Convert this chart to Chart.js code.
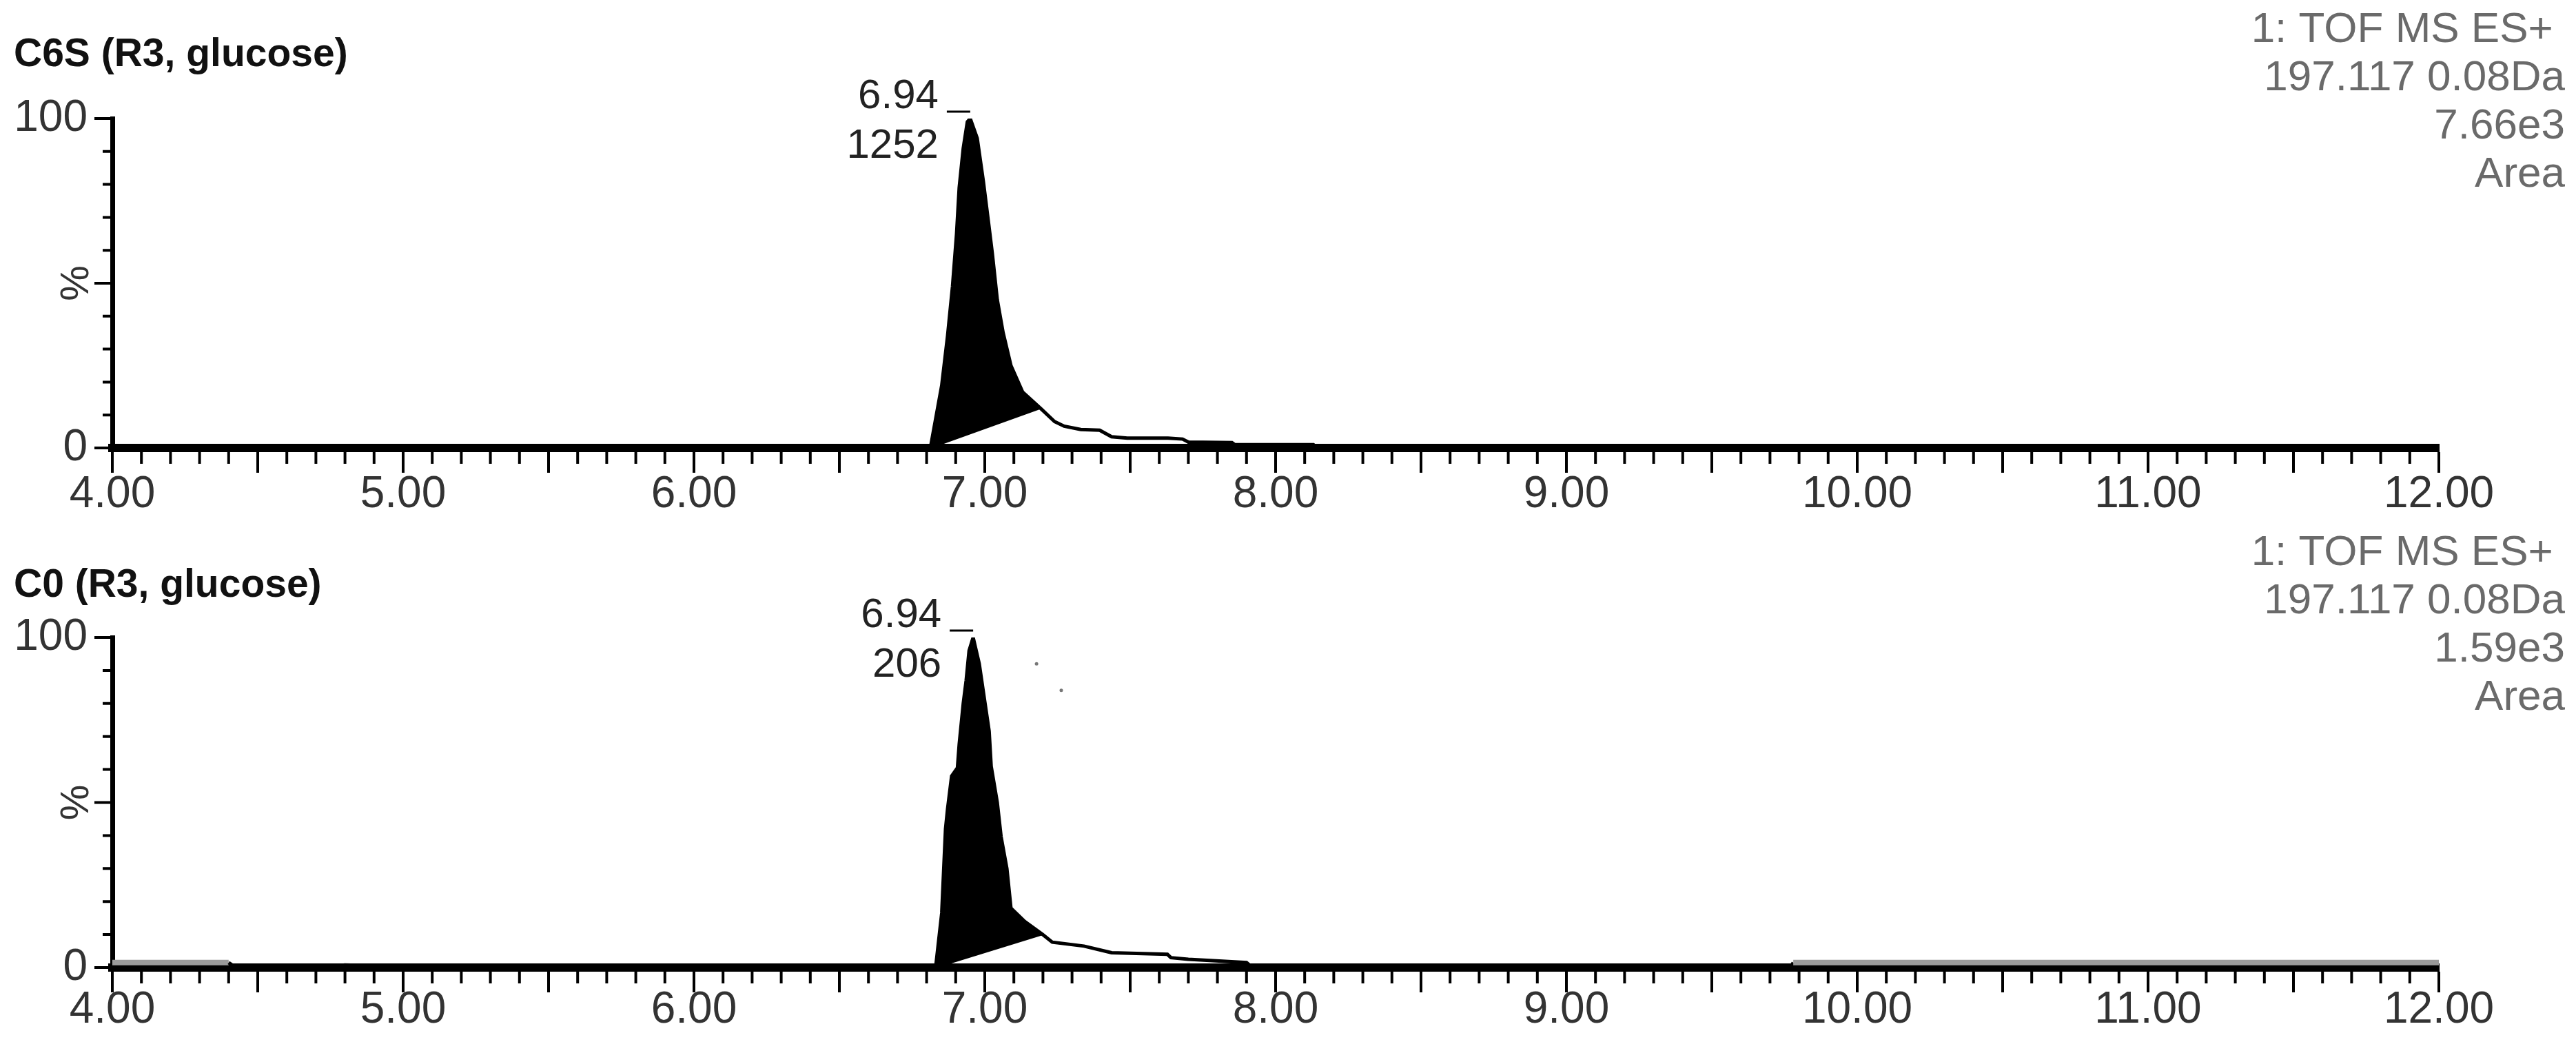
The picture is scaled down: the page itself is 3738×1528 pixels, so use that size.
<!DOCTYPE html>
<html>
<head>
<meta charset="utf-8">
<title>C6S / C0 glucose chromatograms</title>
<script src="https://cdn.jsdelivr.net/npm/chart.js@4.4.0/dist/chart.umd.min.js"></script>
<style>
  html, body { margin: 0; padding: 0; background: #fff; }
  #wrap { position: relative; width: 3738px; height: 1528px; }
  canvas { position: absolute; left: 0; }
  #topChart { top: 0; }
  #bottomChart { top: 754px; }
</style>
</head>
<body>
<div id="wrap">
  <canvas id="topChart" width="3738" height="754"></canvas>
  <canvas id="bottomChart" width="3738" height="774"></canvas>
</div>
<script>
// Retention time (min) and relative intensity (%)
const c6sTime = [4.00, 4.10, 4.12, 4.16, 4.18, 4.30, 4.32, 4.35, 4.78, 4.80, 4.95, 4.97,
    6.813, 6.852, 6.872, 6.889, 6.903, 6.912, 6.926, 6.940, 6.950, 6.974, 6.995, 7.012,
    7.026, 7.043, 7.063, 7.090, 7.130, 7.192, 7.240, 7.273, 7.330, 7.395, 7.436, 7.490,
    7.630, 7.680, 7.700, 7.850, 7.860, 8.130, 8.140, 12.00];
const c6sPct = [0, 0, 0.6, 0.6, 0, 0, 0.4, 0, 0, 0.6, 0.6, 0,
    0, 19, 34, 49, 65, 79, 91, 99, 100, 94, 81, 69,
    59, 45, 35, 25, 17, 12, 8, 6.6, 5.6, 5.4, 3.4, 3.0,
    3.0, 2.7, 1.8, 1.6, 1.0, 1.0, 0, 0];
const c6sPeakWindow = [6.813, 7.192];   // integration start / end (min)
const c6sIntegLevel = [0, 12];          // integration baseline at start / end (%)
const c6sTitle = 'C6S (R3, glucose)';
const c6sHeader = ['1: TOF MS ES+ ', '197.117 0.08Da', '7.66e3', 'Area'];
const c6sPeakLabel = ['6.94', '1252'];

const c0Time = [4.00, 4.40, 4.42, 4.50, 4.55, 4.65, 4.75, 4.80, 4.90, 4.96, 5.00,
    6.831, 6.852, 6.865, 6.872, 6.886, 6.906, 6.912, 6.926, 6.936, 6.946, 6.960,
    6.981, 7.001, 7.015, 7.022, 7.043, 7.056, 7.076, 7.090, 7.137, 7.199, 7.232,
    7.341, 7.436, 7.628, 7.640, 7.700, 7.900, 7.920, 9.77, 9.78, 12.00];
const c0Pct = [1.5, 1.5, 0.3, 0.6, 0.2, 0.6, 0.3, 0.8, 0.5, 0.4, 0,
    0, 16.5, 42, 48, 58, 60.5, 67.6, 80, 87, 96, 100,
    92, 80, 71.6, 61, 50, 39.7, 30, 18, 14, 10, 7.7,
    6.5, 4.5, 4.0, 3.0, 2.5, 1.5, 0, 0, 1.5, 1.5];
const c0GrayRanges = [[4.00, 4.40], [9.78, 12.00]];
const c0SpeckTime = [7.178, 7.263];
const c0SpeckPct = [92, 84];
const c0PeakWindow = [6.831, 7.199];
const c0IntegLevel = [0, 10];
const c0Title = 'C0 (R3, glucose)';
const c0Header = ['1: TOF MS ES+ ', '197.117 0.08Da', '1.59e3', 'Area'];
const c0PeakLabel = ['6.94', '206'];

const timeRange = [4, 12];
const pctRange = [0, 100];

const FONT = '"Liberation Sans", Arial, sans-serif';
Chart.defaults.font.family = FONT;

// ticks, titles, header block, "%" and apex annotation
const chromDecor = {
    id: 'chromDecor',
    afterDraw(chart) {
        const o = chart.options.plugins.chromDecor;
        const { ctx, chartArea } = chart;
        const x = chart.scales.x, y = chart.scales.y;
        ctx.save();
        ctx.strokeStyle = '#000';
        ctx.lineWidth = 4;
        ctx.beginPath();
        for (let i = 0; i <= 80; i++) {
            const px = x.getPixelForValue(timeRange[0] + i * 0.1);
            const len = i % 5 === 0 ? 30 : 17;
            ctx.moveTo(px, chartArea.bottom + 6);
            ctx.lineTo(px, chartArea.bottom + 6 + len);
        }
        for (let v = 0; v <= 100; v += 10) {
            const py = y.getPixelForValue(v);
            const len = v % 50 === 0 ? 26 : 14;
            ctx.moveTo(chartArea.left - 3, py);
            ctx.lineTo(chartArea.left - len, py);
        }
        ctx.stroke();

        ctx.fillStyle = '#111';
        ctx.font = 'bold 57px ' + FONT;
        ctx.textAlign = 'left';
        ctx.textBaseline = 'alphabetic';
        ctx.fillText(o.title, 20, o.titleY);

        ctx.fillStyle = '#6a6a6a';
        ctx.font = '62px ' + FONT;
        ctx.textAlign = 'right';
        o.header.forEach((line, i) => ctx.fillText(line, 3722, o.headerY + i * 70));

        ctx.save();
        ctx.fillStyle = '#333';
        ctx.font = '58px ' + FONT;
        ctx.translate(112, y.getPixelForValue(50));
        ctx.rotate(-Math.PI / 2);
        ctx.textAlign = 'center';
        ctx.textBaseline = 'middle';
        ctx.fillText('%', 0, 0);
        ctx.restore();

        // apex of the trace
        const pts = chart.data.datasets[0].data;
        const apex = pts.reduce((a, b) => (b.y > a.y ? b : a));
        const ax = x.getPixelForValue(apex.x), ay = y.getPixelForValue(apex.y);
        ctx.lineWidth = 3;
        ctx.beginPath();
        ctx.moveTo(ax - 34, ay - 10);
        ctx.lineTo(ax, ay - 10);
        ctx.stroke();
        ctx.fillStyle = '#222';
        ctx.font = '60px ' + FONT;
        ctx.textAlign = 'right';
        ctx.fillText(o.peakLabel[0], ax - 46, ay - 15);
        ctx.fillText(o.peakLabel[1], ax - 46, ay + 57);
        ctx.restore();
    }
};

function toPoints(times, values) {
    return times.map((t, i) => ({ x: t, y: values[i] }));
}

function buildPanel(canvasId, cfg) {
    const trace = toPoints(cfg.time, cfg.pct);
    const peak = trace.filter(p => p.x >= cfg.window[0] && p.x <= cfg.window[1]);
    const integ = toPoints(cfg.window, cfg.integ);
    const grayRanges = cfg.gray || [];
    const isGray = t => grayRanges.some(r => t >= r[0] && t <= r[1]);

    const datasets = [
        {
            data: trace,
            borderColor: '#000',
            borderWidth: 5,
            pointRadius: 0,
            fill: false,
            segment: {
                borderColor: c => (isGray(c.p0.parsed.x) && isGray(c.p1.parsed.x) ? '#9a9a9a' : undefined),
                borderWidth: c => (isGray(c.p0.parsed.x) && isGray(c.p1.parsed.x) ? 8 : undefined)
            }
        },
        {
            data: peak,
            borderColor: '#000',
            borderWidth: 1,
            backgroundColor: '#000',
            pointRadius: 0,
            fill: '+1'
        },
        {
            data: integ,
            borderColor: '#000',
            borderWidth: 2,
            pointRadius: 0,
            fill: false
        }
    ];
    if (cfg.specks) {
        datasets.push({
            type: 'scatter',
            data: cfg.specks,
            pointRadius: 2.5,
            pointBackgroundColor: '#777',
            pointBorderWidth: 0,
            showLine: false
        });
    }

    return new Chart(document.getElementById(canvasId), {
        type: 'line',
        data: { datasets },
        options: {
            responsive: false,
            animation: false,
            devicePixelRatio: 1,
            layout: { padding: { left: 0, right: 199, top: cfg.padTop, bottom: 0 } },
            plugins: {
                legend: { display: false },
                tooltip: { enabled: false },
                chromDecor: {
                    title: cfg.title, titleY: cfg.titleY,
                    header: cfg.header, headerY: cfg.headerY,
                    peakLabel: cfg.peakLabel
                }
            },
            scales: {
                x: {
                    type: 'linear',
                    min: timeRange[0],
                    max: timeRange[1],
                    afterFit: s => { s.height = cfg.axisHeight; },
                    grid: { display: false, drawTicks: false },
                    border: { display: true, color: '#000', width: 12 },
                    ticks: {
                        stepSize: 1,
                        autoSkip: false,
                        maxRotation: 0,
                        padding: cfg.labelPad,
                        color: '#333',
                        font: { size: 64 },
                        callback: v => Number(v).toFixed(2)
                    }
                },
                y: {
                    min: pctRange[0],
                    max: pctRange[1],
                    afterFit: s => { s.width = 163; },
                    grid: { display: false, drawTicks: false },
                    border: { display: true, color: '#000', width: 7 },
                    ticks: {
                        stepSize: 10,
                        padding: 36,
                        color: '#333',
                        font: { size: 64 },
                        callback: v => (v === pctRange[0] || v === pctRange[1] ? String(v) : '')
                    }
                }
            }
        },
        plugins: [chromDecor]
    });
}

buildPanel('topChart', {
    time: c6sTime, pct: c6sPct, window: c6sPeakWindow, integ: c6sIntegLevel,
    title: c6sTitle, header: c6sHeader, peakLabel: c6sPeakLabel,
    padTop: 172, axisHeight: 104, labelPad: 30, titleY: 96, headerY: 61
});

buildPanel('bottomChart', {
    time: c0Time, pct: c0Pct, window: c0PeakWindow, integ: c0IntegLevel,
    gray: c0GrayRanges, specks: toPoints(c0SpeckTime, c0SpeckPct),
    title: c0Title, header: c0Header, peakLabel: c0PeakLabel,
    padTop: 171, axisHeight: 124, labelPad: 24, titleY: 112, headerY: 66
});
</script>
</body>
</html>
